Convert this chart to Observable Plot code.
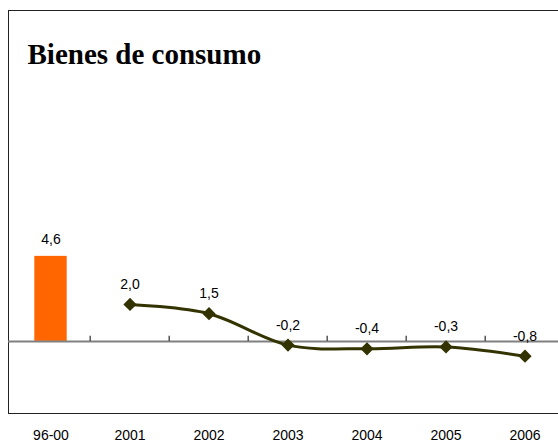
<!DOCTYPE html>
<html>
<head>
<meta charset="utf-8">
<script src="https://cdn.jsdelivr.net/npm/d3@7"></script>
<script src="https://cdn.jsdelivr.net/npm/@observablehq/plot@0.6"></script>
<style>
  html, body { margin: 0; padding: 0; background: #fff; }
  #chart { width: 558px; height: 445px; overflow: hidden; }
  #chart svg { max-width: none !important; }
</style>
</head>
<body>
<div id="chart"></div>
<script>
const categories = ["96-00", "2001", "2002", "2003", "2004", "2005", "2006"];
const barCategories = ["96-00"];
const barValues = [4.6];
const lineCategories = ["2001", "2002", "2003", "2004", "2005", "2006"];
const lineValues = [2.0, 1.5, -0.2, -0.4, -0.3, -0.8];
const titleText = "Bienes de consumo";

const fmt = v => v.toFixed(1).replace(".", ",");
const bars = barCategories.map((c, i) => ({cat: c, value: barValues[i]}));
const line = lineCategories.map((c, i) => ({cat: c, value: lineValues[i]}));
const boundaries = categories.slice(1);

const chart = Plot.plot({
  width: 570,
  height: 445,
  marginLeft: 8,
  marginTop: 10,
  marginBottom: 32,
  marginRight: 0,
  style: {fontFamily: "'Liberation Sans', Arial, sans-serif", fontSize: "14px", color: "#000", background: "#fff", overflow: "visible", maxWidth: "none"},
  x: {domain: categories, range: [8.3, 566], padding: 0, tickSize: 0, tickPadding: 17, label: null},
  y: {domain: [-3.9, 17.9], axis: null},
  marks: [
    Plot.frame({stroke: "#222", strokeWidth: 1}),
    Plot.barY(bars, {x: "cat", y: "value", fill: "#ff6600", insetLeft: 23.3, insetRight: 23.3}),
    Plot.ruleY([0], {stroke: "#808080", strokeWidth: 2}),
    Plot.ruleX(boundaries, {x: d => d, y1: 0, y2: 0.28, dx: -39.85, stroke: "#000", strokeWidth: 1}),
    Plot.text(bars, {x: "cat", y: "value", text: d => fmt(d.value), dy: -17, fill: "#000"}),
    Plot.line(line, {x: "cat", y: "value", stroke: "#333300", strokeWidth: 3, curve: "catmull-rom"}),
    Plot.dot(line, {x: "cat", y: "value", symbol: "diamond2", r: 5, fill: "#333300", stroke: "#333300"}),
    Plot.text(line, {x: "cat", y: "value", text: d => fmt(d.value), dy: -20, fill: "#000"}),
    Plot.text([titleText], {frameAnchor: "top-left", text: d => d, dx: 19, dy: 53, fontFamily: "'Liberation Serif', 'Times New Roman', serif", fontWeight: "bold", fontSize: 29, textAnchor: "start", lineAnchor: "bottom", fill: "#000"})
  ]
});
document.getElementById("chart").appendChild(chart);
</script>
</body>
</html>
